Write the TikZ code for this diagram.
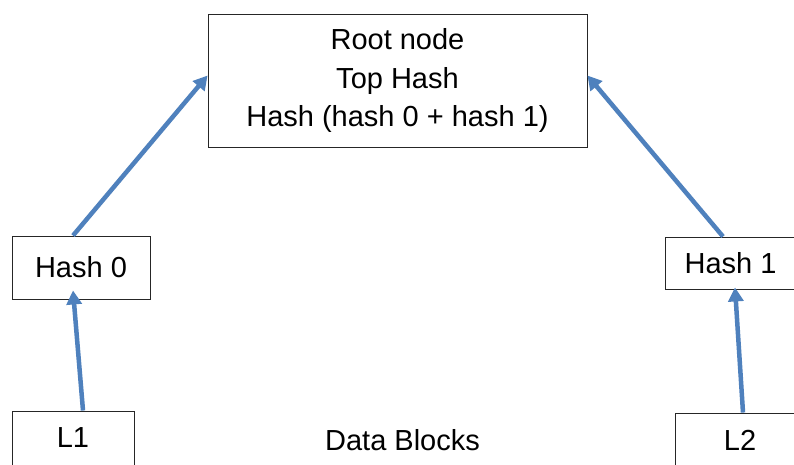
\documentclass[tikz,border=0pt]{standalone}
\usepackage{fontspec}
\setmainfont{Liberation Sans}
\usetikzlibrary{arrows.meta}
\definecolor{arrowblue}{RGB}{79,129,189}
\begin{document}
\begin{tikzpicture}[x=1pt,y=-1pt,
  box/.style={draw=black!85, line width=0.9pt, inner sep=0pt, font=\fontsize{29}{38.5}\selectfont},
  plain/.style={inner sep=0pt, font=\fontsize{29}{38.5}\selectfont},
  link/.style={draw=arrowblue, line width=4.5pt, -{Triangle[width=15pt,length=14pt]}}]
\useasboundingbox (0,0) rectangle (794,464);
\clip (0,0) rectangle (794,464);
\fill[white] (0,0) rectangle (794,464);
\node[box, minimum width=379pt, minimum height=133pt, align=center] (root) at (397.5,80.5)
  {Root node\\Top Hash\\Hash (hash 0 + hash 1)};
\node[box, minimum width=138pt, minimum height=63pt] (h0) at (81,267.5) {Hash 0};
\node[box, minimum width=131pt, minimum height=52pt] (h1) at (730.5,263) {Hash 1};
\node[box, minimum width=122pt, minimum height=54pt] (l1) at (73,438) {L1};
\node[box, minimum width=130pt, minimum height=54pt] (l2) at (740,440) {L2};
\node[plain] (data) at (402.5,440) {Data Blocks};
\draw[link] ([xshift=10pt]l1.north) -- ([xshift=-8pt,yshift=9pt]h0.south);
\draw[link] ([xshift=-8pt]h0.north) -- ([yshift=5pt]root.west);
\draw[link] ([xshift=3pt]l2.north) -- ([xshift=4.5pt,yshift=2pt]h1.south);
\draw[link] ([xshift=-7.5pt]h1.north) -- ([yshift=5pt]root.east);
\end{tikzpicture}
\end{document}
